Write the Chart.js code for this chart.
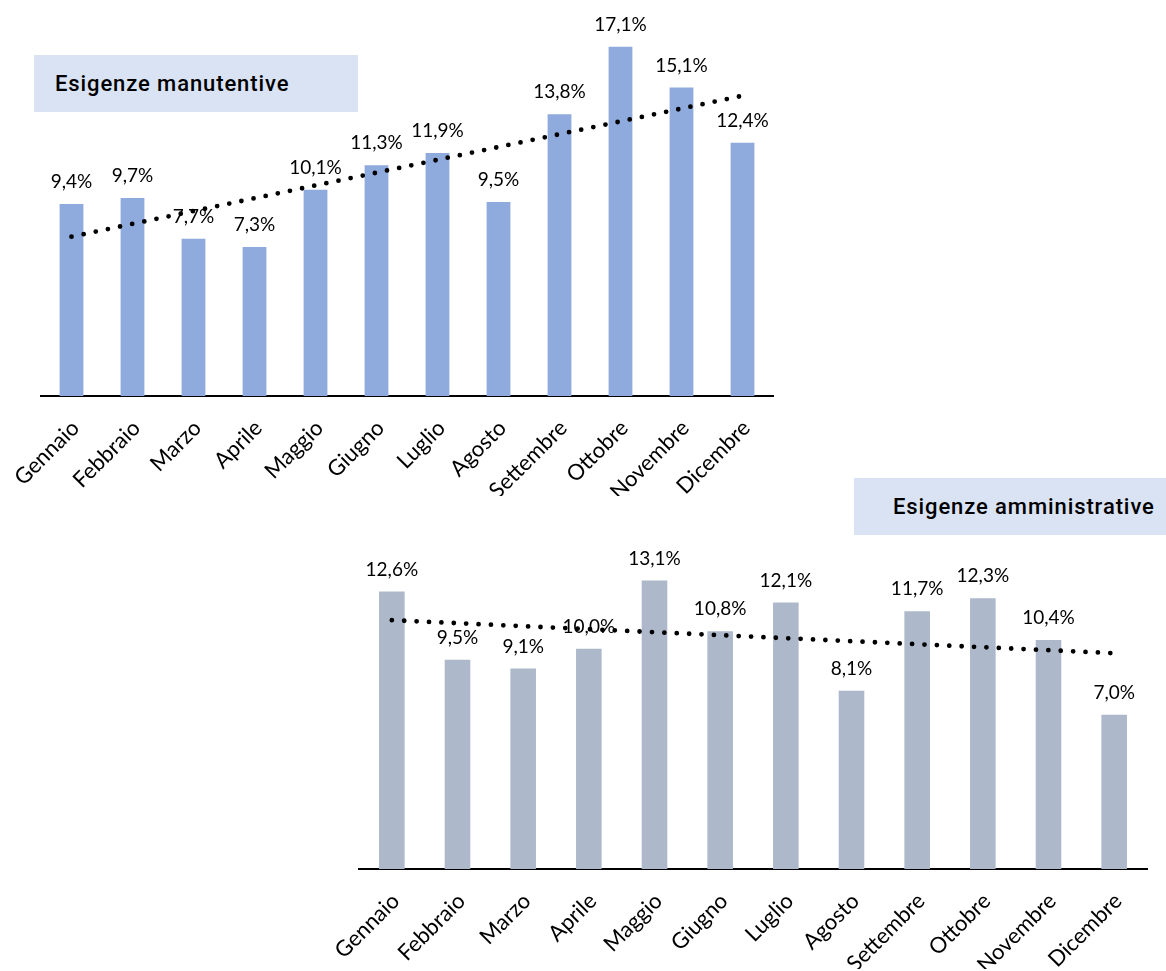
<!DOCTYPE html>
<html><head><meta charset="utf-8">
<script src="https://cdn.jsdelivr.net/npm/chart.js@4.4.1/dist/chart.umd.min.js"></script>
<style>
body{margin:0;width:1166px;height:971px;position:relative;background:#fff;overflow:hidden}
canvas{position:absolute}
.title{position:absolute;background:#DAE3F3;color:#000;font-family:Roboto;font-weight:500;font-size:22px;letter-spacing:0.9px;display:flex;align-items:center;box-sizing:border-box;white-space:nowrap}
</style></head><body>
<div class="title" style="left:34px;top:55px;width:324px;height:57px;padding-left:21px">Esigenze manutentive</div>
<div class="title" style="left:854px;top:478px;width:312px;height:57px;padding-left:39px">Esigenze amministrative</div>
<canvas id="c1" width="800" height="496" style="left:0;top:0"></canvas>
<canvas id="c2" width="848" height="424" style="left:318px;top:545px"></canvas>
<script>
const months = ['Gennaio','Febbraio','Marzo','Aprile','Maggio','Giugno','Luglio','Agosto','Settembre','Ottobre','Novembre','Dicembre'];
const manutentive = [9.4, 9.7, 7.7, 7.3, 10.1, 11.3, 11.9, 9.5, 13.8, 17.1, 15.1, 12.4];
const amministrative = [12.6, 9.5, 9.1, 10.0, 13.1, 10.8, 12.1, 8.1, 11.7, 12.3, 10.4, 7.0];
// trend line end values (first and last month)
const trendManutentive = [7.8, 14.7];
const trendAmministrative = [11.3, 9.8];

const FONT = 'Lato';
const fmt = v => v.toFixed(1).replace('.', ',') + '%';

const labelPlugin = {
  id: 'barLabels',
  afterDatasetsDraw(chart) {
    const ctx = chart.ctx;
    const meta = chart.getDatasetMeta(0);
    const data = chart.data.datasets[0].data;
    ctx.save();
    ctx.font = '19px ' + FONT;
    ctx.fillStyle = '#000';
    ctx.textAlign = 'center';
    ctx.textBaseline = 'alphabetic';
    meta.data.forEach((el, i) => ctx.fillText(fmt(data[i]), el.x, el.y - 16));
    ctx.restore();
  }
};

function trendSeries(ends) {
  return months.map((m, i) => i === 0 ? ends[0] : (i === months.length - 1 ? ends[1] : null));
}

function makeChart(id, values, trend, color, yMax, pad) {
  return new Chart(document.getElementById(id), {
    type: 'bar',
    data: {
      labels: months,
      datasets: [
        { type: 'bar', data: values, backgroundColor: color, barPercentage: 0.78, categoryPercentage: 0.5, order: 2 },
        { type: 'line', data: trendSeries(trend), spanGaps: true, borderColor: '#000', borderWidth: 4.8,
          borderDash: [0, 12.4], borderCapStyle: 'round', pointRadius: 0, fill: false, order: 1 }
      ]
    },
    options: {
      responsive: false, animation: false,
      layout: { padding: pad },
      plugins: { legend: { display: false }, tooltip: { enabled: false } },
      scales: {
        x: {
          grid: { display: false, drawTicks: false },
          border: { display: true, color: '#000', width: 2 },
          ticks: { color: '#000', font: { family: FONT, size: 22 }, minRotation: 45, maxRotation: 45, padding: 19, labelOffset: 4, autoSkip: false },
          afterFit(s) { s.height = 100; s.paddingLeft = 0; s.paddingRight = 0; }
        },
        y: { display: false, min: 0, max: yMax }
      }
    },
    plugins: [labelPlugin]
  });
}

makeChart('c1', manutentive, trendManutentive, '#8FAADC', 18.41, { left: 41, right: 27, top: 20, bottom: 0 });
makeChart('c2', amministrative, trendAmministrative, '#ADB9CA', 14.26, { left: 41, right: 19, top: 10, bottom: 0 });
</script>
</body></html>
